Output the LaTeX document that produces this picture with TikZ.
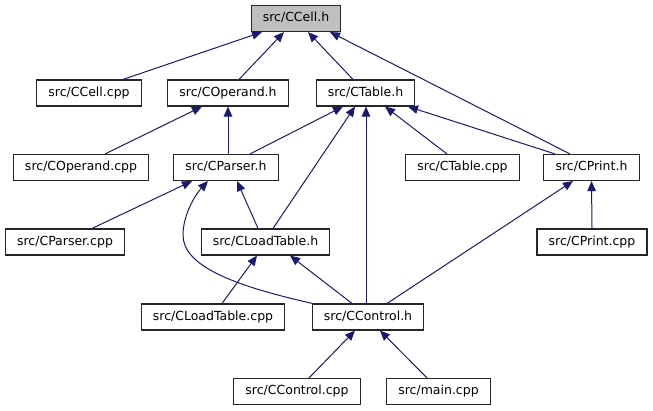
\documentclass[tikz,border=0pt]{standalone}
\usepackage{fontspec}
\setmainfont{DejaVu Sans}
\usetikzlibrary{arrows.meta}
\begin{document}
\begin{tikzpicture}[x=1pt,y=-1pt,font=\fontsize{12.5}{14}\selectfont,
  file/.style={draw=black!85,line width=1.1pt,fill=white,inner xsep=11.7pt,
    inner ysep=0pt,minimum height=26pt,text height=9.6pt,text depth=2.6pt},
  edge/.style={draw=navyedge,line width=1pt,-{Triangle[length=10pt,width=8.5pt]}}]
  \definecolor{navyedge}{RGB}{25,25,112}
  \definecolor{headgray}{RGB}{191,191,191}
  \useasboundingbox (0,0) rectangle (653,411);
  % files, row by row
  \node[file,fill=headgray] (ccellh) at (296,18.5) {src/CCell.h};
  \node[file] (ccellcpp) at (89,93) {src/CCell.cpp};
  \node[file] (coperandh) at (228,93) {src/COperand.h};
  \node[file] (ctableh) at (365.5,93) {src/CTable.h};
  \node[file] (coperandcpp) at (81,167.5) {src/COperand.cpp};
  \node[file] (cparserh) at (226,167.5) {src/CParser.h};
  \node[file] (ctablecpp) at (462.5,167.5) {src/CTable.cpp};
  \node[file] (cprinth) at (591.5,167.5) {src/CPrint.h};
  \node[file] (cparsercpp) at (65,242) {src/CParser.cpp};
  \node[file] (cloadtableh) at (265.5,242) {src/CLoadTable.h};
  \node[file] (cprintcpp) at (592,242) {src/CPrint.cpp};
  \node[file] (cloadtablecpp) at (213,317) {src/CLoadTable.cpp};
  \node[file] (ccontrolh) at (368,317) {src/CControl.h};
  \node[file] (ccontrolcpp) at (297,391.5) {src/CControl.cpp};
  \node[file] (maincpp) at (438.5,391.5) {src/main.cpp};
  % includes
  \draw[edge] ([xshift=34pt]ccellcpp.north) -- ([xshift=-34pt]ccellh.south);
  \draw[edge] ([xshift=11pt]coperandh.north) -- ([xshift=-12pt]ccellh.south);
  \draw[edge] ([xshift=-12.5pt]ctableh.north) -- ([xshift=12pt]ccellh.south);
  \draw[edge] ([xshift=-21.5pt]cprinth.north) -- ([xshift=34pt]ccellh.south);
  \draw[edge] ([xshift=24pt]coperandcpp.north) -- ([xshift=-26pt]coperandh.south);
  \draw[edge] ([xshift=2pt]cparserh.north) -- (coperandh.south);
  \draw[edge] ([xshift=24pt]cparserh.north) -- ([xshift=-22.5pt]ctableh.south);
  \draw[edge] ([xshift=7.5pt]cloadtableh.north) -- ([xshift=-10.5pt]ctableh.south);
  \draw[edge] ([xshift=-2pt]ccontrolh.north) -- ([xshift=0.5pt]ctableh.south);
  \draw[edge] ([xshift=-15.5pt]ctablecpp.north) -- ([xshift=19.5pt]ctableh.south);
  \draw[edge] ([xshift=-36.5pt]cprinth.north) -- ([xshift=42.5pt]ctableh.south);
  \draw[edge] ([xshift=27pt]cparsercpp.north) -- ([xshift=-34pt]cparserh.south);
  \draw[edge] ([xshift=-7.5pt]cloadtableh.north) -- ([xshift=11pt]cparserh.south);
  \draw[edge] ([xshift=1pt]ccontrolh.north west) .. controls (230,285) and (183,265) .. (183,235)
    .. controls (183,215) and (195,195) .. ([xshift=-18pt]cparserh.south);
  \draw[edge] (cprintcpp.north) -- (cprinth.south);
  \draw[edge] ([xshift=19pt]ccontrolh.north) -- ([xshift=-18.5pt]cprinth.south);
  \draw[edge] ([xshift=9pt]cloadtablecpp.north) -- ([xshift=-8.5pt]cloadtableh.south);
  \draw[edge] ([xshift=-16pt]ccontrolh.north) -- ([xshift=24.5pt]cloadtableh.south);
  \draw[edge] ([xshift=12pt]ccontrolcpp.north) -- ([xshift=-13pt]ccontrolh.south);
  \draw[edge] ([xshift=-11.5pt]maincpp.north) -- ([xshift=12pt]ccontrolh.south);
\end{tikzpicture}
\end{document}
